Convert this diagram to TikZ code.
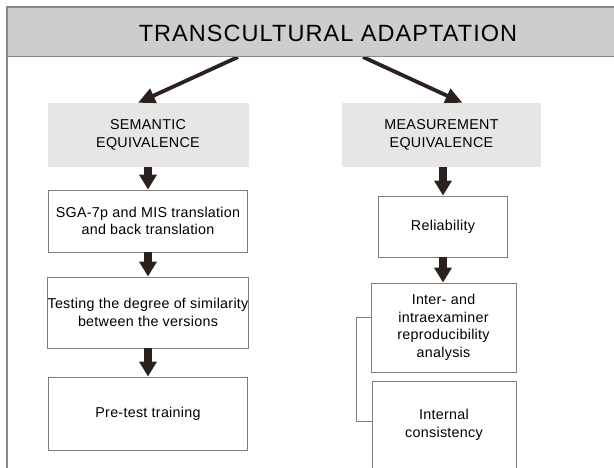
\documentclass[tikz,border=0pt]{standalone}
\usepackage{fontspec}
\setmainfont{Liberation Sans}[LetterSpace=2]
\usetikzlibrary{arrows.meta}
\definecolor{titlegray}{HTML}{CDCDCD}
\definecolor{headgray}{HTML}{E6E6E6}
\definecolor{framegray}{HTML}{8A8A8A}
\definecolor{boxline}{HTML}{857A72}
\definecolor{arrowbrown}{HTML}{2B221E}
\begin{document}
\begin{tikzpicture}[x=1pt,y=-1pt,every node/.style={font=\fontsize{14.3}{17.5}\selectfont},
  stagebox/.style={draw=boxline,line width=0.9pt,fill=white,align=center,inner sep=0pt},
  headbox/.style={fill=headgray,align=center,inner sep=0pt},
  blockarrow/.style={draw=arrowbrown,line width=8pt,-{Triangle[length=15pt,width=17pt]}},
  slantarrow/.style={draw=arrowbrown,line width=3.8pt,-{Triangle[length=17pt,width=15pt]}}]
\useasboundingbox (0,0) rectangle (614,468);
\node[headbox,minimum width=201pt,minimum height=64pt] (sem) at (148,135) {SEMANTIC\\EQUIVALENCE};
\node[headbox,minimum width=199pt,minimum height=64pt] (meas) at (441.5,135) {MEASUREMENT\\EQUIVALENCE};
\node[stagebox,minimum width=199pt,minimum height=62pt] (sga) at (148,221) {SGA-7p and MIS translation\\and back translation};
\node[stagebox,minimum width=199pt,minimum height=71pt] (test) at (148,312.5) {Testing the degree of similarity\\between the versions};
\node[stagebox,minimum width=199pt,minimum height=73pt] (pre) at (148,413.5) {Pre-test training};
\node[stagebox,minimum width=129pt,minimum height=61pt] (rel) at (443,226.5) {Reliability};
\node[stagebox,minimum width=145pt,minimum height=89pt] (inter) at (443.5,327.5) {Inter- and\\intraexaminer\\reproducibility\\analysis};
\node[stagebox,minimum width=144pt,minimum height=88pt] (intc) at (444,425) {Internal\\consistency};
% arrows down the columns
\draw[blockarrow] (sem.south) -- (sga.north);
\draw[blockarrow] (sga.south) -- (test.north);
\draw[blockarrow] (test.south) -- (pre.north);
\draw[blockarrow] (meas.south -| rel.north) -- (rel.north);
\draw[blockarrow] (rel.south) -- (rel.south |- inter.north);
% bracket joining the two measures
\coordinate (btop) at (356,317);
\coordinate (bbot) at (356,421);
\draw[boxline,line width=0.9pt] (inter.west |- btop) -- (btop) -- (bbot) -- (intc.west |- bbot);
% title bar
\coordinate (lfoot) at (238,57);
\coordinate (rfoot) at (363,57);
\draw[slantarrow] (lfoot) -- ([xshift=-10pt]sem.north);
\draw[slantarrow] (rfoot) -- ([xshift=21pt]meas.north);
\fill[titlegray] (7,7) rectangle (616,57);
\draw[framegray,line width=1.2pt] (7,470) -- (7,7) -- (616,7);
\draw[framegray,line width=1pt] (7,57) -- (616,57);
\node[font=\fontsize{23.5}{27}\selectfont\addfontfeatures{LetterSpace=4.5}] (title) at (328,33) {TRANSCULTURAL ADAPTATION};
\end{tikzpicture}
\end{document}
